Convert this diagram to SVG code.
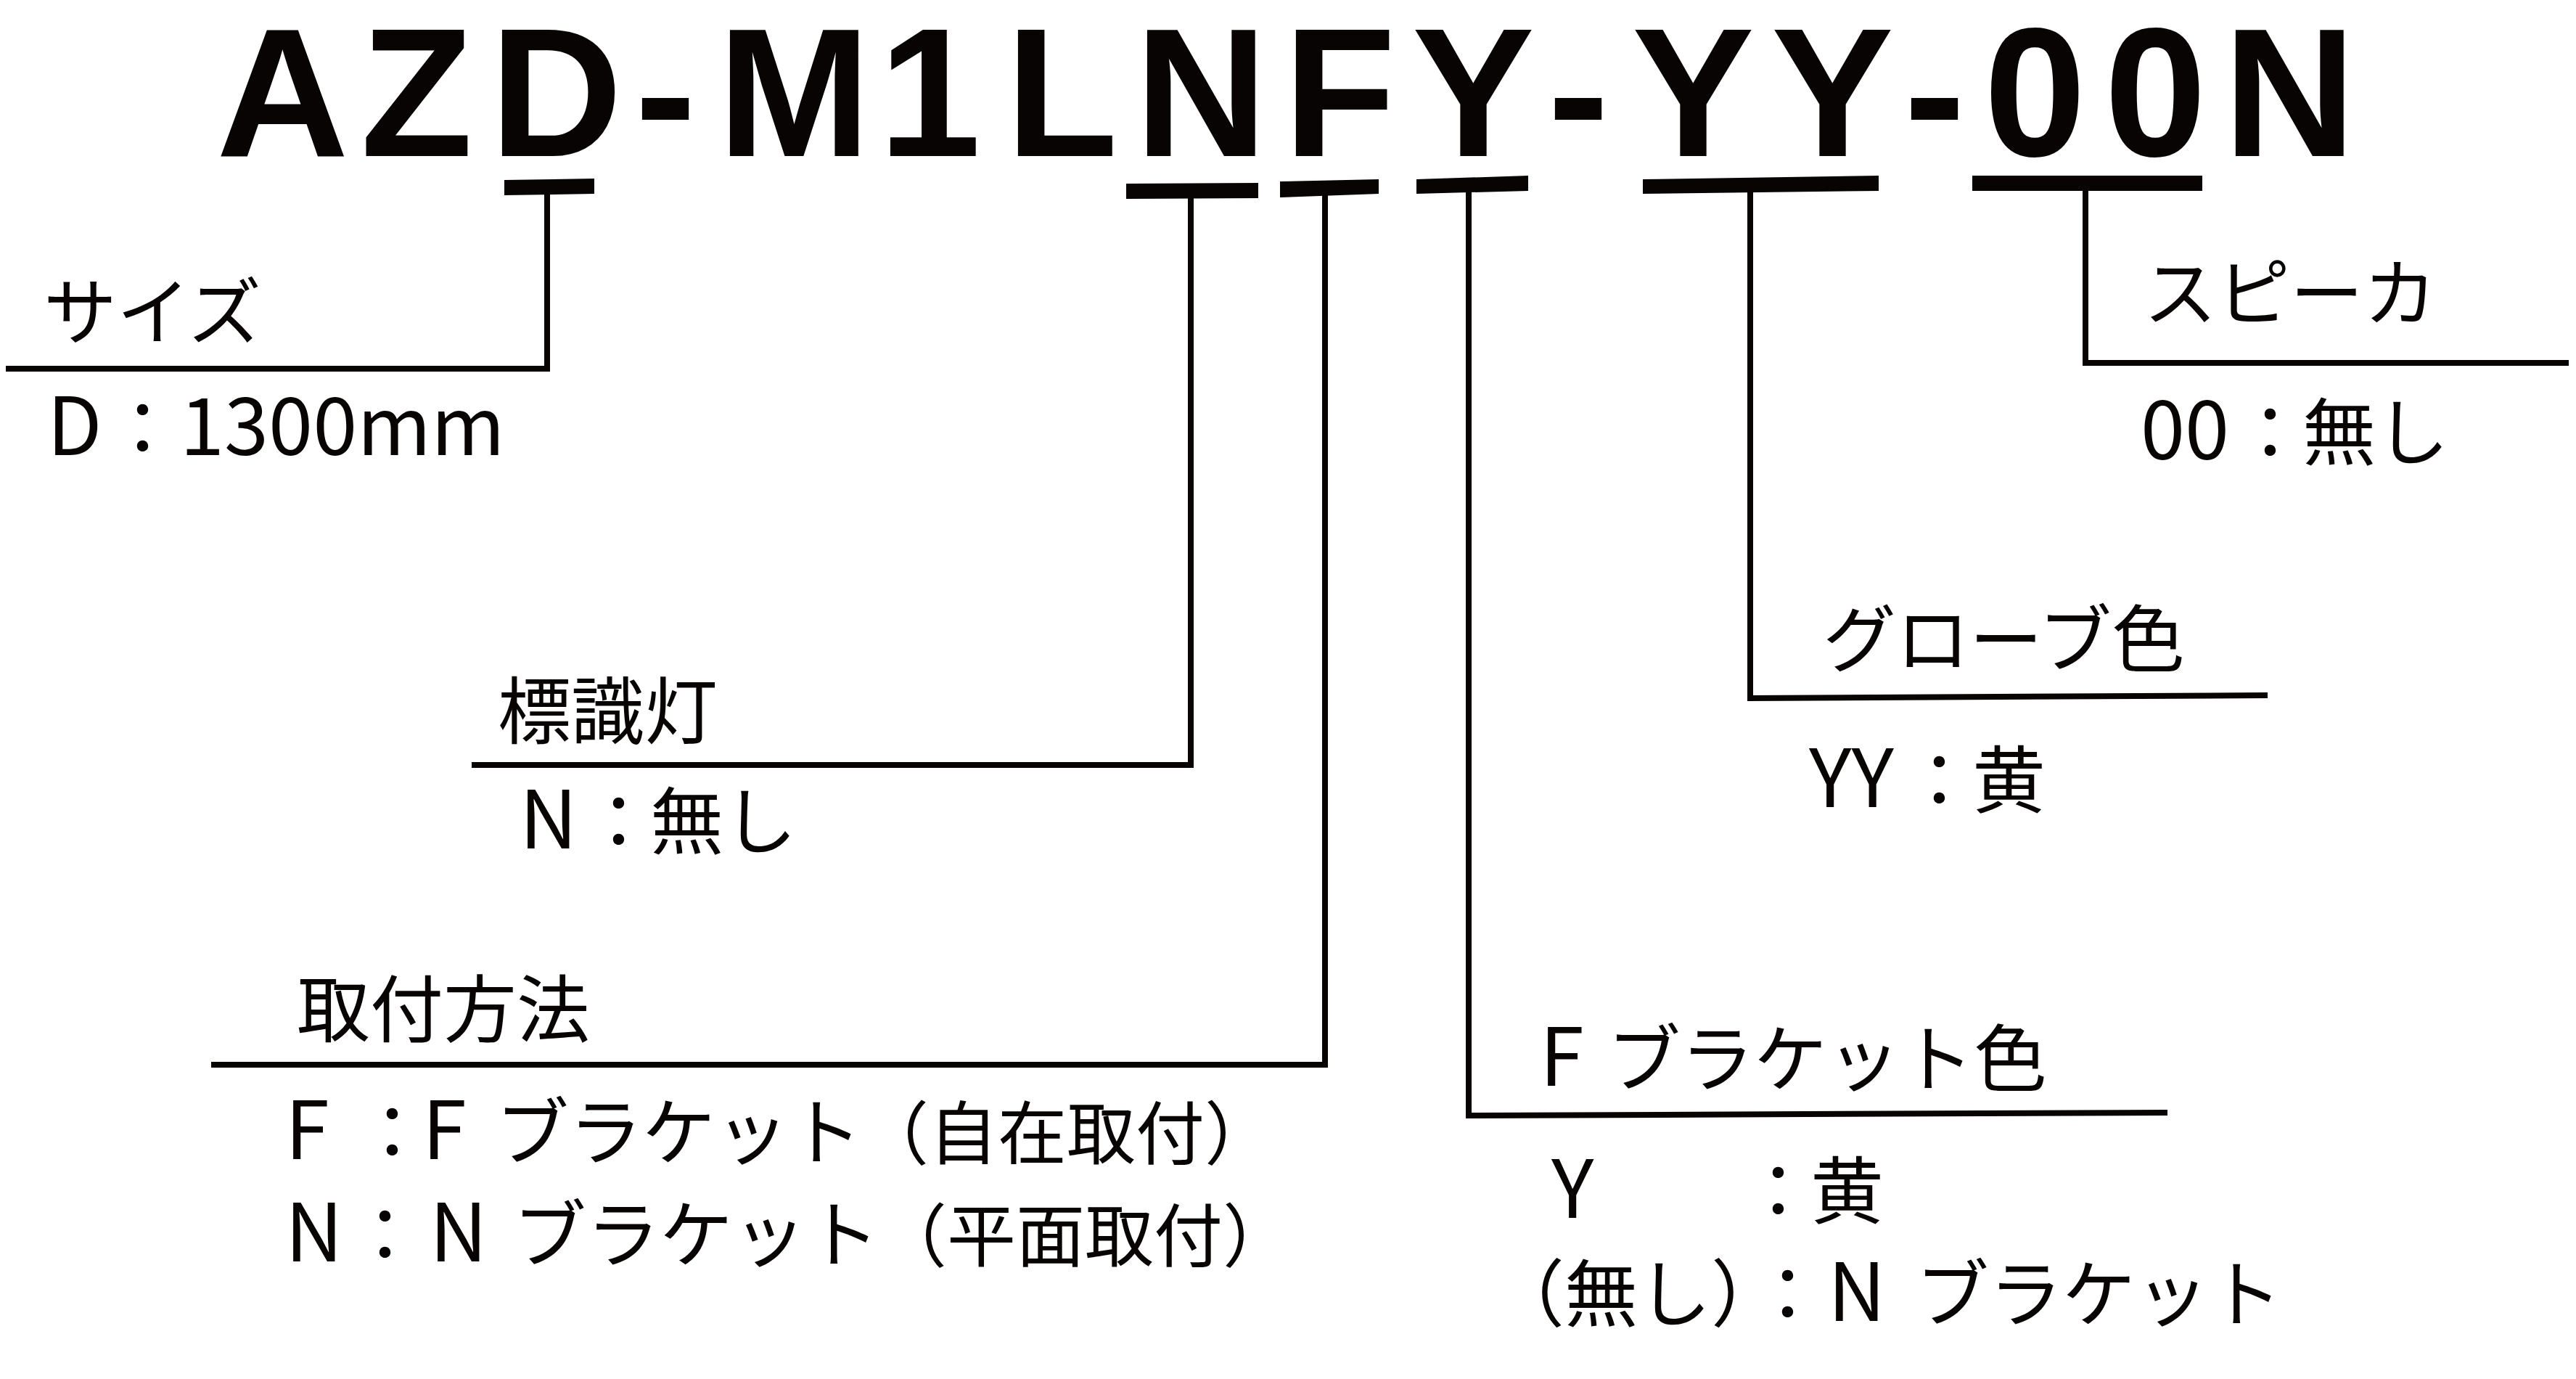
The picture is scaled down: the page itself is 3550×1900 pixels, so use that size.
<svg xmlns="http://www.w3.org/2000/svg" width="3550" height="1900" viewBox="0 0 3550 1900">
<style>
.title{font-family:"Liberation Sans",Arial,sans-serif;font-weight:bold;font-size:253px;fill:#070403}
.lbl{font-family:"Noto Sans CJK JP","Noto Sans",sans-serif;font-size:101px;fill:#070403}
.lat{font-size:110px}
.par{font-size:95px}
.conn{stroke:#070403;stroke-width:8;fill:none;stroke-linejoin:miter}
.bar{fill:#070403}
</style>
<rect width="3550" height="1900" fill="#ffffff"/>
<g id="title">
<text class="title" y="215" x="298 497 675 875 989 1211 1386 1564 1769 1946 2133 2249 2441 2624 2734 2900 3064">AZD-M1LNFY-YY-00N</text>
</g>
<g id="connectors">
<polygon class="bar" points="695,248 819,246 819,267 695,269"/>
<polygon class="bar" points="1552,253 1734,252 1734,273 1552,274"/>
<polygon class="bar" points="1764,250 1900,247 1900,267 1764,272"/>
<polygon class="bar" points="1952,247 2106,242 2106,263 1952,267"/>
<polygon class="bar" points="2264,247 2589,242 2589,263 2264,267"/>
<polygon class="bar" points="2718,242 3035,242 3035,263 2718,263"/>
<polyline class="conn" points="754,266 754,508 8,508"/>
<polyline class="conn" points="1641,272 1641,1054 650,1054"/>
<polyline class="conn" points="1826,268 1826,1467 291,1467"/>
<polyline class="conn" points="2024,264 2024,1537 2987,1533"/>
<polyline class="conn" points="2412,264 2412,962 3125,958"/>
<polyline class="conn" points="2874,262 2874,500 3540,500"/>
</g>
<g id="size">
<text class="lbl" x="60" y="467">サイズ</text>
<text class="lbl" y="627"><tspan class="lat" x="65">D</tspan><tspan x="146">：</tspan><tspan class="lat" x="248">1300mm</tspan></text>
</g>
<g id="speaker">
<text class="lbl" x="2954" y="441">スピーカ</text>
<text class="lbl" y="633"><tspan class="lat" x="2950">00</tspan><tspan x="3078">：</tspan><tspan x="3173">無し</tspan></text>
</g>
<g id="marker-lamp">
<text class="lbl" x="686" y="1017">標識灯</text>
<text class="lbl" y="1169"><tspan class="lat" x="716">N</tspan><tspan x="802">：</tspan><tspan x="896">無し</tspan></text>
</g>
<g id="globe-color">
<text class="lbl" x="2512" y="918">グローブ色</text>
<text class="lbl" y="1112"><tspan class="lat" x="2493">YY</tspan><tspan x="2622">：</tspan><tspan x="2718">黄</tspan></text>
</g>
<g id="mounting">
<text class="lbl" x="409" y="1428">取付方法</text>
<text class="lbl" y="1597"><tspan class="lat" x="393">F</tspan><tspan x="490">：</tspan><tspan class="lat" x="582">F</tspan><tspan x="683">ブラケット</tspan><tspan class="par" x="1185">（自在取付）</tspan></text>
<text class="lbl" y="1738"><tspan class="lat" x="393">N</tspan><tspan x="480">：</tspan><tspan class="lat" x="592">N</tspan><tspan x="707">ブラケット</tspan><tspan class="par" x="1210">（平面取付）</tspan></text>
</g>
<g id="bracket-color">
<text class="lbl" y="1496"><tspan class="lat" x="2122">F</tspan><tspan x="2215">ブラケット色</tspan></text>
<text class="lbl" y="1678"><tspan class="lat" x="2138">Y</tspan><tspan x="2400">：</tspan><tspan x="2495">黄</tspan></text>
<text class="lbl" y="1820"><tspan x="2055">（無し）</tspan><tspan x="2413">：</tspan><tspan class="lat" x="2519">N</tspan><tspan x="2640">ブラケット</tspan></text>
</g>
</svg>
